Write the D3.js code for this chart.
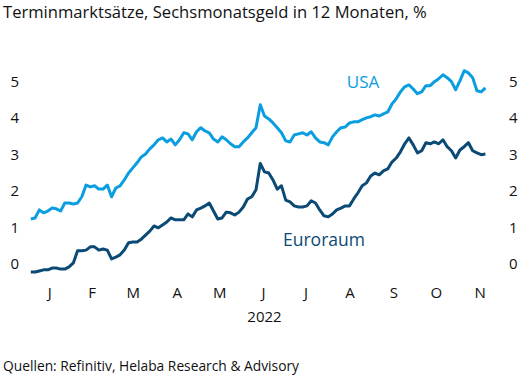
<!DOCTYPE html>
<html>
<head>
<meta charset="utf-8">
<script src="https://cdn.jsdelivr.net/npm/d3@7"></script>
<style>
  html, body { margin: 0; padding: 0; background: #fff; }
  svg { display: block; }
  text { font-family: "Open Sans", "Noto Sans", sans-serif; fill: #111; }
</style>
</head>
<body>
<svg id="chart" width="523" height="378"></svg>
<script>
const title = "Terminmarktsätze, Sechsmonatsgeld in 12 Monaten, %";
const source = "Quellen: Refinitiv, Helaba Research & Advisory";
const yearLabel = "2022";
const monthLabels = ["J","F","M","A","M","J","J","A","S","O","N"];
const monthTickDates = ["2022-01-16","2022-02-15","2022-03-16","2022-04-16","2022-05-16","2022-06-16","2022-07-16","2022-08-16","2022-09-16","2022-10-16","2022-11-16"];
const yTicks = [0,1,2,3,4,5];
const seriesNames = ["USA","Euroraum"];

const dates = [
"2022-01-03","2022-01-06","2022-01-09","2022-01-12","2022-01-15","2022-01-18","2022-01-21","2022-01-24","2022-01-27","2022-01-30",
"2022-02-02","2022-02-05","2022-02-08","2022-02-11","2022-02-14","2022-02-17","2022-02-20","2022-02-23","2022-02-26","2022-03-01",
"2022-03-04","2022-03-07","2022-03-10","2022-03-13","2022-03-16","2022-03-19","2022-03-22","2022-03-25","2022-03-28","2022-03-31",
"2022-04-03","2022-04-06","2022-04-09","2022-04-12","2022-04-15","2022-04-18","2022-04-21","2022-04-24","2022-04-27","2022-04-30",
"2022-05-03","2022-05-06","2022-05-09","2022-05-12","2022-05-15","2022-05-18","2022-05-21","2022-05-24","2022-05-27","2022-05-30",
"2022-06-02","2022-06-05","2022-06-08","2022-06-11","2022-06-14","2022-06-17","2022-06-20","2022-06-23","2022-06-26","2022-06-29",
"2022-07-02","2022-07-05","2022-07-08","2022-07-11","2022-07-14","2022-07-17","2022-07-20","2022-07-23","2022-07-26","2022-07-29",
"2022-08-01","2022-08-04","2022-08-07","2022-08-10","2022-08-13","2022-08-16","2022-08-19","2022-08-22","2022-08-25","2022-08-28",
"2022-08-31","2022-09-03","2022-09-06","2022-09-09","2022-09-12","2022-09-15","2022-09-18","2022-09-21","2022-09-24","2022-09-27",
"2022-09-30","2022-10-03","2022-10-06","2022-10-09","2022-10-12","2022-10-15","2022-10-18","2022-10-21","2022-10-24","2022-10-27",
"2022-10-30","2022-11-02","2022-11-05","2022-11-08","2022-11-11","2022-11-14","2022-11-17","2022-11-20"
];

const usa = [
1.23,1.26,1.48,1.40,1.45,1.53,1.51,1.45,1.67,1.67,
1.64,1.67,1.84,2.16,2.11,2.14,2.05,2.05,2.16,1.84,
2.08,2.14,2.30,2.49,2.63,2.77,2.93,3.01,3.15,3.26,
3.40,3.45,3.34,3.42,3.26,3.40,3.59,3.56,3.40,3.62,
3.73,3.64,3.59,3.42,3.34,3.48,3.40,3.29,3.21,3.21,
3.34,3.45,3.59,3.73,4.36,4.05,3.97,3.86,3.73,3.59,
3.37,3.34,3.53,3.56,3.59,3.53,3.62,3.45,3.34,3.32,
3.26,3.48,3.62,3.73,3.75,3.86,3.89,3.89,3.95,4.00,
4.03,4.08,4.05,4.11,4.16,4.38,4.52,4.71,4.85,4.90,
4.79,4.66,4.71,4.88,4.88,4.99,5.07,5.18,5.10,4.99,
4.77,5.01,5.29,5.23,5.10,4.74,4.71,4.82
];

const euro = [
-0.22,-0.22,-0.19,-0.16,-0.16,-0.11,-0.11,-0.14,-0.14,-0.08,
0.03,0.36,0.36,0.38,0.47,0.47,0.38,0.41,0.38,0.14,
0.19,0.25,0.38,0.58,0.60,0.60,0.68,0.79,0.90,1.04,
0.99,1.07,1.15,1.26,1.21,1.21,1.21,1.37,1.29,1.48,
1.53,1.59,1.67,1.45,1.23,1.26,1.42,1.40,1.34,1.42,
1.56,1.78,1.84,2.03,2.75,2.52,2.49,2.30,2.05,2.14,
1.75,1.70,1.59,1.56,1.56,1.59,1.73,1.67,1.48,1.32,
1.29,1.37,1.48,1.53,1.59,1.59,1.78,1.95,2.14,2.22,
2.41,2.49,2.44,2.55,2.60,2.79,2.90,3.07,3.29,3.45,
3.26,3.04,3.10,3.32,3.29,3.34,3.29,3.40,3.21,3.10,
2.90,3.12,3.21,3.32,3.10,3.04,2.99,3.01
];

const colors = { usa: "#0a9de0", euro: "#0b4a75" };

const parse = d3.utcParse("%Y-%m-%d");
const svg = d3.select("#chart");

const x = d3.scaleUtc()
  .domain([parse("2022-01-01"), parse("2022-12-01")])
  .range([28, 501]);
const y = d3.scaleLinear().domain([0, 5]).range([264, 81.3]);

// Title
svg.append("text").attr("x", 3).attr("y", 17.8)
  .style("font-size", "16.6px").text(title);

// Left y axis labels
const yAxisL = d3.axisLeft(y).tickValues(yTicks).tickSize(0).tickPadding(0).tickFormat(d3.format("d"));
const gL = svg.append("g").attr("transform", "translate(19,0)").call(yAxisL);
gL.select(".domain").remove();
gL.selectAll("text").style("font-size", "15px").attr("text-anchor", "end").attr("fill", "#111");

// Right y axis labels
const yAxisR = d3.axisRight(y).tickValues(yTicks).tickSize(0).tickPadding(0).tickFormat(d3.format("d"));
const gR = svg.append("g").attr("transform", "translate(509,0)").call(yAxisR);
gR.select(".domain").remove();
gR.selectAll("text").style("font-size", "15px").attr("fill", "#111");

// x axis month labels
const xAxis = d3.axisBottom(x)
  .tickValues(monthTickDates.map(parse))
  .tickSize(0).tickPadding(0)
  .tickFormat((d, i) => monthLabels[i]);
const gX = svg.append("g").attr("transform", "translate(0,287)").call(xAxis);
gX.select(".domain").remove();
gX.selectAll("text").style("font-size", "15px").attr("fill", "#111").attr("dy", "0.71em");

svg.append("text").attr("x", x(parse("2022-06-17"))).attr("y", 322)
  .attr("text-anchor", "middle").style("font-size", "15px").text(yearLabel);

// Lines
const line = d3.line()
  .x((d, i) => x(parse(dates[i])))
  .y(d => y(d))
  .curve(d3.curveLinear);

svg.append("path").datum(usa)
  .attr("fill", "none").attr("stroke", colors.usa)
  .attr("stroke-width", 3).attr("stroke-linejoin", "round")
  .attr("d", line);

svg.append("path").datum(euro)
  .attr("fill", "none").attr("stroke", colors.euro)
  .attr("stroke-width", 3).attr("stroke-linejoin", "round")
  .attr("d", line);

// Series labels
svg.append("text").attr("x", 363).attr("y", 88).attr("text-anchor", "middle")
  .style("font-size", "17px").style("fill", colors.usa).text(seriesNames[0]);
svg.append("text").attr("x", 324).attr("y", 246).attr("text-anchor", "middle")
  .style("font-size", "17.5px").style("fill", colors.euro).text(seriesNames[1]);

// Source
svg.append("text").attr("x", 3).attr("y", 371)
  .style("font-size", "13.8px").text(source);
</script>
</body>
</html>
